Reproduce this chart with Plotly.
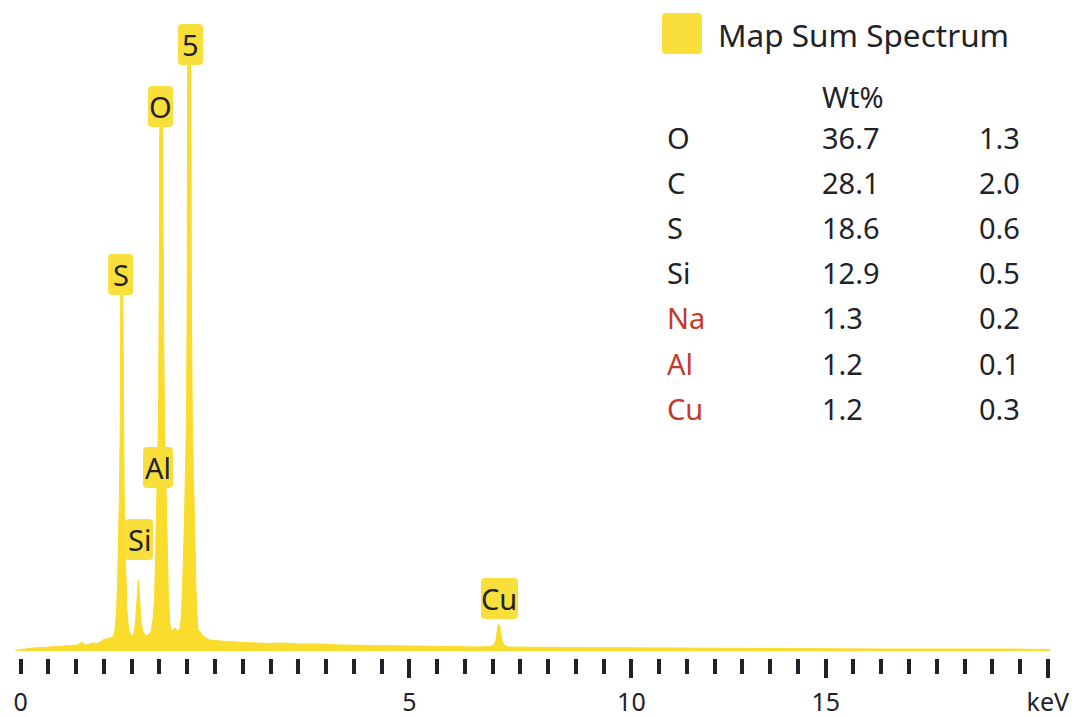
import plotly.graph_objects as go

# ---- spectrum outline (energy on the scale axis, counts) ----
energy = [-0.10, 0.22, 0.53, 0.83, 1.03, 1.10, 1.18, 1.30, 1.39, 1.48, 1.61, 1.66,
          1.70, 1.725, 1.745, 1.762, 1.780, 1.793, 1.799, 1.803, 1.839, 1.843, 1.850, 1.863,
          1.879, 1.897, 1.915, 1.942, 1.969, 2.005,
          2.041, 2.068, 2.086, 2.100, 2.109, 2.120, 2.131, 2.145, 2.167, 2.203, 2.257, 2.311,
          2.347, 2.383, 2.410, 2.428, 2.446, 2.464, 2.482, 2.495, 2.502, 2.505, 2.559, 2.563,
          2.570, 2.590, 2.607, 2.626, 2.640, 2.662, 2.689, 2.716, 2.779, 2.833,
          2.869, 2.896, 2.914, 2.932, 2.950, 2.968, 2.986, 2.999, 3.004, 3.008, 3.064, 3.067,
          3.075, 3.091, 3.109, 3.127, 3.143, 3.157, 3.175, 3.194,
          3.230, 3.284, 3.338, 3.410, 3.590, 3.824, 4.040, 4.436, 4.761, 5.031, 5.391, 5.751,
          6.291, 6.831, 7.552, 8.272,
          8.453, 8.525, 8.561, 8.584, 8.597, 8.626, 8.642, 8.669, 8.705, 8.777, 9.714, 11.155,
          13.316, 15.477, 17.639, 18.540]
counts = [5, 30, 40, 50, 60, 90, 60, 80, 75, 110, 130, 140,
          210, 390, 660, 1060, 1610, 2310, 3010, 3580, 3580, 3010, 2310, 1610,
          1060, 660, 390, 230, 170, 150,
          180, 290, 460, 630, 710, 710, 630, 460, 290, 190, 150, 170,
          190, 310, 510, 910, 1310, 1810, 2310, 3510, 4510, 5260, 5260, 4510,
          3510, 2310, 1810, 1310, 910, 510, 260, 200, 230, 200,
          220, 360, 610, 910, 1310, 1810, 2310, 3510, 4510, 5880, 5880, 4510,
          3510, 2310, 1810, 1310, 910, 610, 360, 210,
          190, 150, 130, 110, 100, 90, 85, 75, 80, 70, 70, 60,
          55, 50, 45, 40,
          45, 60, 110, 190, 260, 260, 190, 110, 60, 40, 35, 30,
          25, 20, 20, 15]

# ---- peak labels ----
peak_names = ["5", "O", "S", "Al", "Si", "Cu"]
peak_energy = [3.058, 2.518, 1.800, 2.473, 2.131, 8.624]
peak_label_counts = [5860, 5240, 3560, 1630, 910, 320]

# ---- axis tick labels ----
tick_label_text = ["0", "5", "10", "15", "keV"]
tick_label_pos = [0.0, 7.0, 11.0, 14.5, 18.5]

# ---- quantification table ----
elements = ["O", "C", "S", "Si", "Na", "Al", "Cu"]
wt_pct = ["36.7", "28.1", "18.6", "12.9", "1.3", "1.2", "1.2"]
wt_sigma = ["1.3", "2.0", "0.6", "0.5", "0.2", "0.1", "0.3"]
flagged = [False, False, False, False, True, True, True]

# ---- styling ----
W, H = 1080, 717
YELLOW = "#F9DC2C"
BOX = "#F9DF3C"
INK = "#1F2329"
RED = "#C23A2C"
FONT = "Noto Sans"
PLOT_BOTTOM_PX = 658


def rounded_box(x0, y0, x1, y1, r):
    return (f"M {x0 + r},{y0} L {x1 - r},{y0} Q {x1},{y0} {x1},{y0 + r} "
            f"L {x1},{y1 - r} Q {x1},{y1} {x1 - r},{y1} L {x0 + r},{y1} "
            f"Q {x0},{y1} {x0},{y1 - r} L {x0},{y0 + r} Q {x0},{y0} {x0 + r},{y0} Z")


fig = go.Figure()
fig.add_trace(go.Scatter(
    x=energy, y=counts, mode="lines", fill="tozeroy",
    line=dict(color=YELLOW, width=1), fillcolor=YELLOW,
    name="Map Sum Spectrum", showlegend=False, hoverinfo="skip",
))
# invisible carrier for the long-tick overlay axis
fig.add_trace(go.Scatter(x=[0], y=[0], xaxis="x2", mode="markers",
                         marker=dict(opacity=0), showlegend=False, hoverinfo="skip"))

tickvals = [i * 0.5 for i in range(38)]
ticktext = [""] * len(tickvals)
for t, p in zip(tick_label_text, tick_label_pos):
    ticktext[tickvals.index(p)] = t

x_range = [-0.3728, 19.080]
fig.update_layout(
    width=W, height=H,
    margin=dict(l=0, r=0, t=0, b=0),
    paper_bgcolor="white", plot_bgcolor="white",
    xaxis=dict(range=x_range, domain=[0, 1], showgrid=False, zeroline=False, showline=False,
               ticks="outside", tickvals=tickvals, ticktext=ticktext,
               ticklen=15, tickwidth=4, tickcolor=INK,
               tickfont=dict(family=FONT, size=25, color=INK), ticklabelstandoff=7),
    xaxis2=dict(range=x_range, overlaying="x", anchor="y", side="bottom",
                showgrid=False, zeroline=False, showline=False,
                ticks="outside", tickvals=tick_label_pos[1:], ticklen=19, tickwidth=4,
                tickcolor=INK, showticklabels=False),
    yaxis=dict(range=[-70, 6510], domain=[(H - PLOT_BOTTOM_PX) / H, 1], visible=False),
)

shapes = []
annotations = []

# peak tags: rounded yellow boxes sitting on the peaks
box_h = 41
for name, e, c in zip(peak_names, peak_energy, peak_label_counts):
    bw = {1: 25, 2: 30}[len(name)] + (7 if name == "Cu" else (-2 if name == "Si" else 0))
    shapes.append(dict(type="path", xref="x", yref="y", xsizemode="pixel", ysizemode="pixel",
                       xanchor=e, yanchor=c, path=rounded_box(-bw / 2, 0, bw / 2, box_h, 4),
                       fillcolor=BOX, line=dict(width=0), layer="above"))
    annotations.append(dict(x=e, y=c, xref="x", yref="y", text=name, showarrow=False,
                            xanchor="center", yanchor="middle", yshift=box_h / 2,
                            font=dict(family=FONT, size=29, color=INK)))

# legend swatch and title
shapes.append(dict(type="path", xref="paper", yref="paper", xsizemode="pixel", ysizemode="pixel",
                   xanchor=662 / W, yanchor=1 - 54 / H, path=rounded_box(0, 0, 40, 41, 4),
                   fillcolor=BOX, line=dict(width=0)))
annotations.append(dict(x=716 / W, y=1 - 35 / H, xref="paper", yref="paper", text="Map Sum Spectrum",
                        showarrow=False, xanchor="left", yanchor="middle",
                        font=dict(family=FONT, size=31.5, color=INK)))

# quantification table
col_x = [665, 820, 977]
annotations.append(dict(x=col_x[1] / W, y=1 - 97 / H, xref="paper", yref="paper", text="Wt%",
                        showarrow=False, xanchor="left", yanchor="middle",
                        font=dict(family=FONT, size=29, color=INK)))
row0, row_step = 137, 45.2
for i, (el, w, s, f) in enumerate(zip(elements, wt_pct, wt_sigma, flagged)):
    yy = 1 - (row0 + i * row_step) / H
    for cx, txt, col in ((col_x[0], el, RED if f else INK), (col_x[1], w, INK), (col_x[2], s, INK)):
        annotations.append(dict(x=cx / W, y=yy, xref="paper", yref="paper", text=txt,
                                showarrow=False, xanchor="left", yanchor="middle",
                                font=dict(family=FONT, size=29, color=col)))

fig.update_layout(shapes=shapes, annotations=annotations)
fig.write_html("out.html")
